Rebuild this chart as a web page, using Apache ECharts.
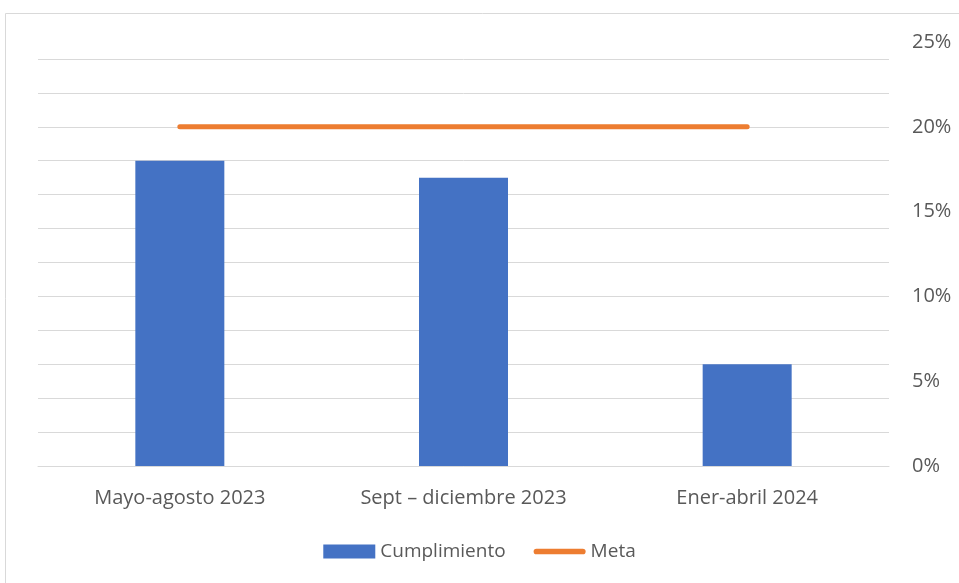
<!DOCTYPE html>
<html><head><meta charset="utf-8">
<script src="https://cdn.jsdelivr.net/npm/echarts@6/dist/echarts.min.js"></script>
<style>html,body{margin:0;padding:0;background:#fff}#c{width:959px;height:583px}</style>
</head><body><div id="c"></div>
<script>
const categories = ['Mayo-agosto 2023', 'Sept – diciembre 2023', 'Ener-abril 2024'];
const cumplimiento = [18, 17, 6];
const meta = [20, 20, 20];
const font = '"Open Sans", "Liberation Sans", sans-serif';
const chart = echarts.init(document.getElementById('c'));
chart.setOption({
  animation: false,
  graphic: [{type: 'rect', shape: {x: 5.5, y: 13.5, width: 1000, height: 1000}, style: {fill: 'none', stroke: '#d9d9d9', lineWidth: 1}, silent: true}],
  grid: {left: 38, right: 70, top: 42, bottom: 117},
  legend: {
    bottom: 17, left: 'center', itemWidth: 52, itemHeight: 14, itemGap: 28,
    textStyle: {color: '#595959', fontSize: 19, fontFamily: font},
    data: [
      {name: 'Cumplimiento', icon: 'rect', itemStyle: {color: '#4472C4'}},
      {name: 'Meta', icon: 'path://M3,0 H52 A3,3 0 0 1 52,6 H3 A3,3 0 0 1 3,0 Z', itemStyle: {color: '#ED7D31'}}
    ]
  },
  xAxis: {
    type: 'category', data: categories,
    axisLine: {lineStyle: {color: '#d9d9d9'}}, axisTick: {show: false},
    axisLabel: {color: '#595959', fontSize: 20, fontFamily: font, margin: 22}
  },
  yAxis: [
    {type: 'value', min: 0, max: 25, interval: 2, position: 'left',
     axisLabel: {show: false}, axisLine: {show: false}, axisTick: {show: false},
     splitLine: {showMaxLine: false, lineStyle: {color: '#d9d9d9', width: 1}}},
    {type: 'value', min: 0, max: 25, interval: 5, position: 'right',
     axisLabel: {color: '#595959', fontSize: 20, fontFamily: font, margin: 23, formatter: '{value}%'},
     axisLine: {show: false}, axisTick: {show: false}, splitLine: {show: false}}
  ],
  series: [
    {name: 'Cumplimiento', type: 'bar', data: cumplimiento, yAxisIndex: 0, barWidth: 89, itemStyle: {color: '#4472C4'}},
    {name: 'Meta', type: 'line', data: meta, yAxisIndex: 1, symbol: 'none', lineStyle: {color: '#ED7D31', width: 5, cap: 'round'}, itemStyle: {color: '#ED7D31'}}
  ]
});
</script></body></html>
